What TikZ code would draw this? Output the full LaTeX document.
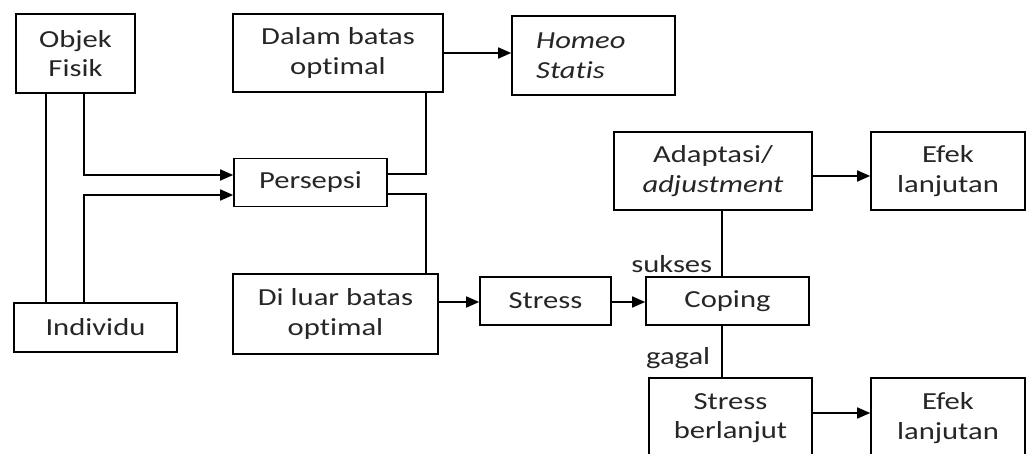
\documentclass[tikz,border=0pt]{standalone}
\usepackage{fontspec}
\setmainfont{Carlito}[FakeStretch=1.25, Ligatures={NoCommon}]
\usetikzlibrary{arrows.meta}
\begin{document}
\begin{tikzpicture}[x=1pt,y=-1pt,
  box/.style={draw=black, line width=1.6pt, rectangle, inner sep=0pt, align=center,
    text=black!85, font=\fontsize{24.5}{29.5}\selectfont},
  conn/.style={draw=black, line width=1.6pt},
  arr/.style={conn, -{Triangle[length=13pt,width=11pt]}},
  lbl/.style={text=black!85, font=\fontsize{24.5}{29.5}\selectfont, inner sep=0pt}
]
\useasboundingbox (0,0) rectangle (1028,454);
\fill[white] (0,0) rectangle (1028,454);

% boxes
\node[box, minimum width=119, minimum height=79] (obj) at (75.5,53.5) {Objek\\Fisik};
\node[box, minimum width=163, minimum height=49] (indiv) at (95.5,327.5) {Individu};
\node[box, minimum width=153, minimum height=48] (pers) at (310.5,182.5) {Persepsi};
\node[box, minimum width=210, minimum height=78] (dalam) at (338,53) {Dalam batas\\optimal};
\node[box, minimum width=163, minimum height=79] (homeo) at (593.5,55.5) {};
\node[lbl, anchor=west, align=left, font=\fontsize{24.5}{29.5}\selectfont\itshape] (homeotxt) at (536,55.5) {Homeo\\Statis};
\node[box, minimum width=205, minimum height=80] (luar) at (335.5,314) {Di luar batas\\optimal};
\node[box, minimum width=131, minimum height=48] (stress) at (545.5,301) {Stress};
\node[box, minimum width=163, minimum height=48] (coping) at (727.5,301) {Coping};
\node[box, minimum width=198, minimum height=78] (adapt) at (713,171) {Adaptasi/\\\textit{adjustment}};
\node[box, minimum width=154, minimum height=78] (efek1) at (948,171) {Efek\\lanjutan};
\node[box, minimum width=163, minimum height=80] (lanjut) at (730.5,418) {Stress\\berlanjut};
\node[box, minimum width=154, minimum height=80] (efek2) at (948,418) {Efek\\lanjutan};

% helper coordinates
\coordinate (xa) at (46,0);
\coordinate (xb) at (84,0);
\coordinate (xc) at (426,0);
\coordinate (xd) at (722,0);
\coordinate (ya) at (0,175);
\coordinate (yb) at (0,195);
\coordinate (yc) at (0,174);
\coordinate (yd) at (0,194);
\coordinate (ye) at (0,302);
\coordinate (yf) at (0,176);
\coordinate (yg) at (0,413);

% connectors
\draw[conn] (xa |- obj.south) -- (xa |- indiv.north);
\draw[arr] (xb |- obj.south) |- (pers.west |- ya);
\draw[arr] (xb |- indiv.north) |- (pers.west |- yb);
\draw[conn] (pers.east |- yc) -| (xc |- dalam.south);
\draw[conn] (pers.east |- yd) -| (xc |- luar.north);
\draw[arr] (dalam.east) -- (dalam.east -| homeo.west);
\draw[arr] (luar.east |- ye) -- (stress.west |- ye);
\draw[arr] (stress.east |- ye) -- (coping.west |- ye);
\draw[arr] (adapt.east |- yf) -- (efek1.west |- yf);
\draw[arr] (lanjut.east |- yg) -- (efek2.west |- yg);
\draw[conn] (xd |- adapt.south) -- node[lbl, pos=0.82, left=9pt] (sukses) {sukses} (xd |- coping.north);
\draw[conn] (xd |- coping.south) -- node[lbl, pos=0.62, left=11pt] (gagal) {gagal} (xd |- lanjut.north);
\end{tikzpicture}
\end{document}
